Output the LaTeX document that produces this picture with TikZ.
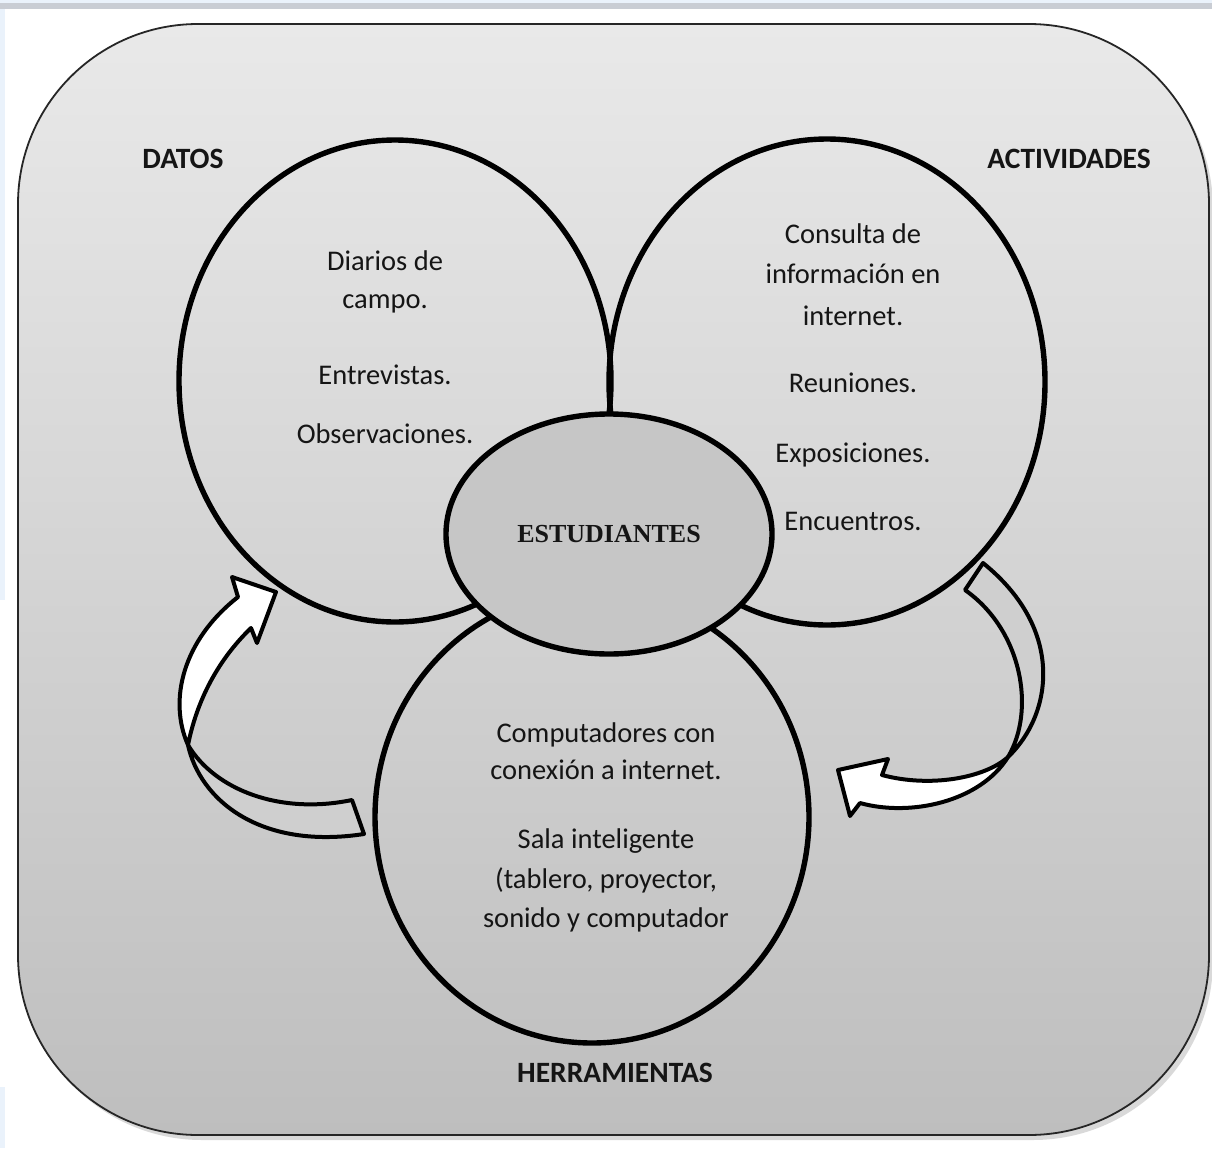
\documentclass[tikz,border=0pt]{standalone}
\usepackage{fontspec}
\setmainfont{Carlito}
\newfontfamily\estfont{Liberation Serif}
\usetikzlibrary{shapes.geometric}
\definecolor{txt}{HTML}{151515}
\definecolor{pagetop}{HTML}{C9CDD4}
\definecolor{pageblue}{HTML}{EAF2FB}
\definecolor{bgtop}{HTML}{E9E9E9}
\definecolor{bgbot}{HTML}{BEBEBE}
\definecolor{hub}{HTML}{C6C6C6}
\definecolor{backc}{HTML}{CFCFCF}
\tikzset{
  ring/.style={ellipse, draw=black, line width=5.4pt, inner sep=0pt},
  bodytext/.style={font=\fontsize{28.5}{32}\selectfont, text=txt, anchor=base, inner sep=0pt},
  heading/.style={font=\fontsize{29.5}{32}\selectfont\bfseries, text=txt, anchor=base, inner sep=0pt},
  frontband/.style={fill=white, draw=black, line width=4pt, line join=round},
  backband/.style={fill=backc, draw=black, line width=4pt, line join=round},
}
\begin{document}
\begin{tikzpicture}[x=1pt,y=-1pt]
\useasboundingbox (0,0) rectangle (1212,1148);
\fill[white] (0,0) rectangle (1212,1148);
% page remnants
\fill[pageblue] (0,0) rectangle (1212,3);
\fill[pagetop] (0,3) rectangle (1212,9);
\fill[pageblue] (0,9) rectangle (5,600);
\fill[pageblue] (0,1087) rectangle (5,1148);
% outer frame with shadow
\fill[gray!30, rounded corners=180pt] (22,29) rectangle (1213,1140);
\shade[top color=bgtop, bottom color=bgbot, rounded corners=180pt] (18,24) rectangle (1209,1135);
\draw[black!85, line width=1.8pt, rounded corners=180pt] (18,24) rectangle (1209,1135);
% three outer rings
\node[ring, minimum width=432pt, minimum height=482pt] (datos) at (395,381) {};
\node[ring, minimum width=436pt, minimum height=486pt] (actividades) at (827,382) {};
\node[ring, minimum width=434pt, minimum height=452pt] (herramientas) at (592,817) {};
% centre
\node[ring, fill=hub, minimum width=326pt, minimum height=240pt,
      font=\estfont\bfseries\fontsize{26}{30}\selectfont, text=txt] (estudiantes) at (609,534) {ESTUDIANTES};
% headings
\node[heading] (hdatos) at (183,168) {DATOS};
\node[heading] (hact) at (1069,168) {ACTIVIDADES};
\node[heading] (hherr) at (615,1082) {HERRAMIENTAS};
% datos text
\node[bodytext] (d1) at (385,270) {Diarios de};
\node[bodytext] (d2) at (385,308) {campo.};
\node[bodytext] (d3) at (385,384) {Entrevistas.};
\node[bodytext] (d4) at (385,443) {Observaciones.};
% actividades text
\node[bodytext] (a1) at (853,243) {Consulta de};
\node[bodytext] (a2) at (853,283) {información en};
\node[bodytext] (a3) at (853,325) {internet.};
\node[bodytext] (a4) at (853,392) {Reuniones.};
\node[bodytext] (a5) at (853,462) {Exposiciones.};
\node[bodytext] (a6) at (853,530) {Encuentros.};
% herramientas text
\node[bodytext] (h1) at (606,742) {Computadores con};
\node[bodytext] (h2) at (606,779) {conexión a internet.};
\node[bodytext] (h3) at (606,848) {Sala inteligente};
\node[bodytext] (h4) at (606,888) {(tablero, proyector,};
\node[bodytext] (h5) at (606,927) {sonido y computador};
% left curved arrow
\coordinate (lx) at (188,745);
\filldraw[backband] (lx) .. controls (200,800) and (260,850) .. (364,834)
  -- (352,800) .. controls (280,815) and (215,790) .. (lx) -- cycle;
\filldraw[frontband] (lx) .. controls (168,700) and (183,640) .. (238,597)
  -- (232,577) -- (276,592) -- (257,643) -- (251,628)
  .. controls (218,660) and (197,700) .. (lx) -- cycle;
% right curved arrow
\coordinate (rx) at (1008,757);
\filldraw[backband] (rx) .. controls (1052,715) and (1066,630) .. (983,563)
  -- (965,590) .. controls (1022,630) and (1036,710) .. (rx) -- cycle;
\filldraw[frontband] (rx) .. controls (980,802) and (910,817) .. (860,803)
  -- (850,816) -- (838,770) -- (888,759) -- (882,775)
  .. controls (930,788) and (985,778) .. (rx) -- cycle;
\end{tikzpicture}
\end{document}
